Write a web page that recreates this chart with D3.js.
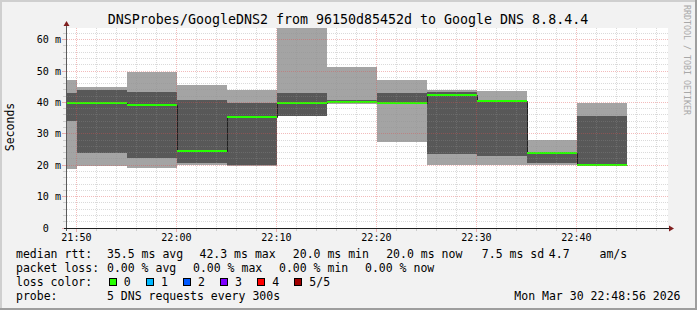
<!DOCTYPE html>
<html lang="en">
<head>
    <meta charset="UTF-8">
    <title>DNSProbes/GoogleDNS2</title>
    <script src="https://d3js.org/d3.v7.min.js"></script>
    <style>
        body { margin: 0; background: #fff; }
        svg text { font-family: "DejaVu Sans Mono", monospace; fill: #000; }
    </style>
</head>
<body>
    <div id="chart"></div>

    <script>
        // 5 minute blocks, labelled by their end time
        const blockEnds = ["21:50", "21:55", "22:00", "22:05", "22:10", "22:15",
                           "22:20", "22:25", "22:30", "22:35", "22:40", "22:45"];
        // sorted pings per block (ms): min, 2nd, median, 4th, max
        const pingMin = [18.8, 19.9, 19.2, 20.1, 19.9, 35.8, 39.6, 27.5, 20.1, 20.1, 20.0, 19.9];
        const ping2   = [34.1, 24.0, 22.3, 20.8, 20.0, 35.8, 39.7, 39.6, 23.7, 23.0, 20.8, 19.9];
        const median  = [39.9, 39.9, 39.2, 24.5, 35.5, 39.9, 40.0, 39.9, 42.4, 40.4, 23.9, 20.0];
        const ping4   = [43.0, 43.9, 43.3, 40.8, 39.9, 43.0, 40.8, 43.0, 43.2, 40.6, 24.0, 35.7];
        const pingMax = [47.1, 44.9, 49.8, 45.5, 44.1, 63.6, 51.4, 47.1, 43.8, 43.7, 28.0, 39.9];
        const lossCount = [0, 0, 0, 0, 0, 0, 0, 0, 0, 0, 0, 0];

        const yTicks = [0, 10, 20, 30, 40, 50, 60];
        const yLabels = ["0  ", "10 m", "20 m", "30 m", "40 m", "50 m", "60 m"];

        const lossNames = ["0", "1", "2", "3", "4", "5/5"];
        const lossColors = ["#26ff00", "#00b8ff", "#0059ff", "#7e00ff", "#ff0000", "#a00000"];

        const rttLegend = [["median rtt:", 16], ["35.5 ms avg", 107], ["42.3 ms max", 199.5],
                           ["20.0 ms min", 292.8], ["20.0 ms now", 386.2], ["7.5 ms sd", 481.8],
                           ["4.7", 548.8], ["am/s", 599.5]];
        const lossLegend = [["packet loss:", 16], ["0.00 % avg", 107], ["0.00 % max", 193],
                            ["0.00 % min", 279], ["0.00 % now", 365]];

        const title = "DNSProbes/GoogleDNS2 from 96150d85452d to Google DNS 8.8.4.4";
        const stamp = "Mon Mar 30 22:48:56 2026";

        const W = 697, H = 310;
        const plot = {left: 67, right: 667, top: 28, bottom: 228};

        const parse = d3.timeParse("%H:%M:%S");
        const t0 = parse("21:49:02");
        const t1 = d3.timeMinute.offset(t0, 60);

        const x = d3.scaleTime().domain([t0, t1]).range([plot.left, plot.right]);
        const y = d3.scaleLinear().domain([0, 63.7]).range([plot.bottom, plot.top]);

        const svg = d3.select("#chart").append("svg")
            .attr("width", W)
            .attr("height", H);

        // background + 3d frame
        svg.append("rect").attr("width", W).attr("height", H).attr("fill", "#f2f2f2");
        svg.append("path").attr("d", `M1,${H} V1 H${W}`).attr("fill", "none")
            .attr("stroke", "#cfcfcf").attr("stroke-width", 2);
        svg.append("path").attr("d", `M0,${H - 1} H${W - 1} V0`).attr("fill", "none")
            .attr("stroke", "#9e9e9e").attr("stroke-width", 2);

        svg.append("rect")
            .attr("x", plot.left).attr("y", plot.top)
            .attr("width", plot.right - plot.left + 1).attr("height", plot.bottom - plot.top)
            .attr("fill", "#fff");

        const blocks = blockEnds.map((e, i) => {
            const end = parse(e + ":00");
            const start = d3.timeMinute.offset(end, -5);
            return {
                x0: Math.round(x(start < t0 ? t0 : start)),
                x1: Math.round(x(end)),
                min: pingMin[i], p2: ping2[i], med: median[i], p4: ping4[i], max: pingMax[i],
                loss: lossCount[i]
            };
        });

        const g = svg.append("g");

        // smoke
        g.selectAll(".outer").data(blocks).enter().append("rect")
            .attr("x", d => d.x0).attr("width", d => d.x1 - d.x0)
            .attr("y", d => Math.round(y(d.max)))
            .attr("height", d => Math.round(y(d.min)) - Math.round(y(d.max)))
            .attr("fill", "#a4a4a4");
        g.selectAll(".inner").data(blocks).enter().append("rect")
            .attr("x", d => d.x0).attr("width", d => d.x1 - d.x0)
            .attr("y", d => Math.round(y(d.p4)))
            .attr("height", d => Math.max(0, Math.round(y(d.p2)) - Math.round(y(d.p4))))
            .attr("fill", "#585858");

        // median step line
        let path = "";
        blocks.forEach((d, i) => {
            const yy = Math.round(y(d.med)) + 0.5;
            path += (i === 0 ? "M" : "L") + (d.x0 + 0.5) + "," + yy + "L" + (d.x1 + 0.5) + "," + yy;
        });
        g.append("path").attr("d", path).attr("fill", "none")
            .attr("stroke", "#202020").attr("stroke-width", 1);

        // loss coloured median bars
        g.selectAll(".med").data(blocks).enter().append("rect")
            .attr("x", d => d.x0).attr("width", d => d.x1 - d.x0)
            .attr("y", d => Math.round(y(d.med)) - 1).attr("height", 2)
            .attr("fill", d => lossColors[Math.min(d.loss, 5)]);

        // grid on top
        const grid = svg.append("g");
        const minorY = d3.range(2, 63, 2).filter(v => v % 10 !== 0);
        const minorX = x.ticks(d3.timeMinute.every(2)).filter(t => t.getMinutes() % 10 !== 0);
        const majorX = x.ticks(d3.timeMinute.every(10));
        const px = v => Math.floor(v) + 0.5;

        grid.selectAll(".gy").data(minorY).enter().append("line")
            .attr("x1", plot.left).attr("x2", plot.right + 1)
            .attr("y1", d => px(y(d))).attr("y2", d => px(y(d)))
            .attr("stroke", "rgba(143,143,143,0.75)").attr("stroke-width", 0.45)
            .attr("stroke-dasharray", "1,1");
        grid.selectAll(".gx").data(minorX).enter().append("line")
            .attr("x1", d => px(x(d))).attr("x2", d => px(x(d)))
            .attr("y1", plot.top).attr("y2", plot.bottom)
            .attr("stroke", "rgba(143,143,143,0.75)").attr("stroke-width", 0.45)
            .attr("stroke-dasharray", "1,1");
        grid.selectAll(".my").data(yTicks.slice(1)).enter().append("line")
            .attr("x1", plot.left).attr("x2", plot.right + 1)
            .attr("y1", d => px(y(d))).attr("y2", d => px(y(d)))
            .attr("stroke", "rgba(222,79,79,0.6)").attr("stroke-width", 0.65)
            .attr("stroke-dasharray", "1,1");
        grid.selectAll(".mx").data(majorX).enter().append("line")
            .attr("x1", d => px(x(d))).attr("x2", d => px(x(d)))
            .attr("y1", plot.top).attr("y2", plot.bottom)
            .attr("stroke", "rgba(222,79,79,0.6)").attr("stroke-width", 0.65)
            .attr("stroke-dasharray", "1,1");

        // small ticks outside the axes
        grid.selectAll(".ty").data(minorY).enter().append("line")
            .attr("x1", 63).attr("x2", 66).attr("y1", d => px(y(d))).attr("y2", d => px(y(d)))
            .attr("stroke", "rgba(143,143,143,0.75)").attr("stroke-width", 0.5);
        grid.selectAll(".tmy").data(yTicks).enter().append("line")
            .attr("x1", 62).attr("x2", 66).attr("y1", d => px(y(d))).attr("y2", d => px(y(d)))
            .attr("stroke", "rgba(222,79,79,0.6)").attr("stroke-width", 0.7);
        grid.selectAll(".tx").data(minorX).enter().append("line")
            .attr("x1", d => px(x(d))).attr("x2", d => px(x(d))).attr("y1", 229).attr("y2", 231)
            .attr("stroke", "rgba(143,143,143,0.75)").attr("stroke-width", 0.5);
        grid.selectAll(".tmx").data(majorX).enter().append("line")
            .attr("x1", d => px(x(d))).attr("x2", d => px(x(d))).attr("y1", 229).attr("y2", 232)
            .attr("stroke", "rgba(222,79,79,0.6)").attr("stroke-width", 0.7);

        // axes with arrows
        svg.append("line").attr("x1", 66.5).attr("x2", 66.5).attr("y1", 231).attr("y2", 24)
            .attr("stroke", "#5a5a5a").attr("stroke-width", 1);
        svg.append("line").attr("x1", 64).attr("x2", 670).attr("y1", 228.5).attr("y2", 228.5)
            .attr("stroke", "#1f1f1f").attr("stroke-width", 1);
        svg.append("path").attr("d", "M63.5,26 L69.5,26 L66.5,21 Z").attr("fill", "#801f1f");
        svg.append("path").attr("d", "M669,225.5 L669,231.5 L674,228.5 Z").attr("fill", "#801f1f");

        // y labels
        svg.selectAll(".yl").data(yTicks).enter().append("text")
            .attr("x", 61).attr("y", d => px(y(d)) + 3.5)
            .attr("text-anchor", "end")
            .attr("xml:space", "preserve")
            .style("font-size", "10.1px")
            .text((d, i) => yLabels[i]);

        // x labels
        svg.selectAll(".xl").data(majorX).enter().append("text")
            .attr("x", d => px(x(d))).attr("y", 241)
            .attr("text-anchor", "middle")
            .style("font-size", "10.1px")
            .text(d => d3.timeFormat("%H:%M")(d));

        // title, unit, watermark
        svg.append("text").attr("x", 348).attr("y", 24).attr("text-anchor", "middle")
            .style("font-size", "13.3px").text(title);
        svg.append("text").attr("transform", "translate(14,127) rotate(-90)")
            .attr("text-anchor", "middle").style("font-size", "11.5px").text("Seconds");
        svg.append("text").attr("transform", "translate(683.5,5) rotate(90)")
            .style("font-size", "8.3px").style("fill", "#a8a8a8").text("RRDTOOL / TOBI OETIKER");

        // legend
        const lineY = i => 258 + 13.9 * i;
        const legend = svg.append("g").style("font-size", "11.5px");
        rttLegend.forEach(d => legend.append("text").attr("x", d[1]).attr("y", lineY(0)).text(d[0]));
        lossLegend.forEach(d => legend.append("text").attr("x", d[1]).attr("y", lineY(1)).text(d[0]));
        legend.append("text").attr("x", 16).attr("y", lineY(2)).text("loss color:");
        lossNames.forEach((n, i) => {
            const bx = 108.5 + i * 37.1;
            legend.append("rect").attr("x", Math.round(bx) + 0.5).attr("y", 278.5)
                .attr("width", 7).attr("height", 7)
                .attr("fill", lossColors[i]).attr("stroke", "#000").attr("stroke-width", 1);
            legend.append("text").attr("x", bx + 15.3).attr("y", lineY(2)).text(n);
        });
        legend.append("text").attr("x", 16).attr("y", lineY(3)).text("probe:");
        legend.append("text").attr("x", 107).attr("y", lineY(3)).text("5 DNS requests every 300s");
        legend.append("text").attr("x", 680.5).attr("y", lineY(3)).attr("text-anchor", "end").text(stamp);
    </script>
</body>
</html>
